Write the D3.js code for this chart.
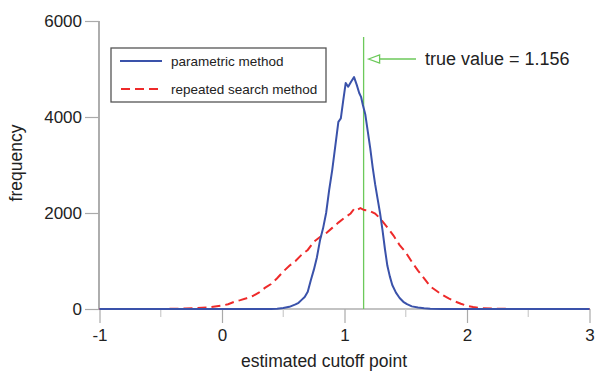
<!DOCTYPE html>
<html>
<head>
<meta charset="utf-8">
<script src="https://cdn.jsdelivr.net/npm/d3@7"></script>
<style>
  html, body { margin: 0; padding: 0; background: #fff; }
  svg { display: block; font-family: "Liberation Sans", Arial, Helvetica, sans-serif; }
</style>
</head>
<body>
<svg id="chart" width="595" height="376"></svg>
<script>
// Histogram of estimated cutoff points (x = estimate, y = frequency)
const parametricX = [-1, 0.4, 0.45, 0.5, 0.55, 0.6, 0.625, 0.65, 0.675, 0.7, 0.725, 0.75, 0.775, 0.8, 0.825, 0.85, 0.875, 0.9, 0.925, 0.95, 0.97, 0.99, 1.01, 1.03, 1.055, 1.078, 1.1, 1.12, 1.135, 1.15, 1.17, 1.19, 1.21, 1.23, 1.25, 1.27, 1.29, 1.31, 1.33, 1.35, 1.37, 1.39, 1.42, 1.45, 1.48, 1.51, 1.55, 1.6, 1.65, 1.7, 1.8, 3];
const parametricY = [0, 0, 5, 20, 45, 95, 130, 190, 250, 360, 600, 820, 1080, 1430, 1680, 2000, 2480, 2900, 3400, 3900, 3970, 4350, 4710, 4630, 4740, 4830, 4670, 4500, 4420, 4250, 4050, 3700, 3350, 2950, 2600, 2300, 2000, 1650, 1250, 900, 680, 500, 340, 230, 150, 100, 55, 30, 15, 6, 0, 0];

const searchX = [-1, -0.5, -0.3, -0.2, -0.1, 0, 0.05, 0.1, 0.15, 0.2, 0.25, 0.3, 0.35, 0.4, 0.45, 0.5, 0.55, 0.6, 0.65, 0.7, 0.75, 0.8, 0.85, 0.9, 0.95, 1.0, 1.05, 1.08, 1.1, 1.13, 1.16, 1.2, 1.25, 1.3, 1.35, 1.4, 1.45, 1.5, 1.55, 1.6, 1.65, 1.7, 1.75, 1.8, 1.85, 1.9, 1.95, 2.0, 2.05, 2.1, 2.2, 2.4, 3];
const searchY = [0, 0, 10, 20, 35, 70, 100, 150, 185, 225, 270, 340, 440, 520, 640, 780, 900, 1000, 1130, 1230, 1400, 1500, 1580, 1690, 1800, 1900, 1990, 2090, 2060, 2100, 2060, 2050, 1990, 1860, 1700, 1530, 1330, 1180, 980, 800, 640, 470, 380, 290, 220, 160, 110, 65, 40, 20, 8, 0, 0];

const xTicks = [-1, 0, 1, 2, 3];
const xMinorTicks = [-0.5, 0.5, 1.5, 2.5];
const yTicks = [0, 2000, 4000, 6000];
const trueValue = 1.156;
const seriesNames = ["parametric method", "repeated search method"];

const svg = d3.select("#chart");
const x = d3.scaleLinear().domain([-1, 3]).range([99.5, 589.5]);
const y = d3.scaleLinear().domain([0, 6000]).range([309, 21]);
const plain = d => String(d);

// y axis
const yAxis = svg.append("g").attr("transform", "translate(99,0)")
  .call(d3.axisLeft(y).tickValues(yTicks).tickFormat(plain).tickSize(14).tickPadding(3));
yAxis.select(".domain").attr("stroke", "#777").attr("stroke-width", 1.2).attr("d", `M0,${y(6000)}V${y(0)}`);
yAxis.selectAll(".tick line").attr("stroke", "#aaa").attr("stroke-width", 1.2);
yAxis.selectAll(".tick text").attr("font-size", 17).attr("fill", "#222")
  .attr("font-family", "'Liberation Sans', Arial, sans-serif");

// x axis
const xAxis = svg.append("g").attr("transform", `translate(0,${y(0)})`)
  .call(d3.axisBottom(x).tickValues(xTicks).tickFormat(plain).tickSize(14).tickPadding(6));
xAxis.select(".domain").attr("stroke", "#888").attr("stroke-width", 1.2).attr("d", `M${x(-1)},0H${x(3)}`);
xAxis.selectAll(".tick line").attr("stroke", "#aaa").attr("stroke-width", 1.2);
xAxis.selectAll(".tick text").attr("font-size", 17).attr("fill", "#222")
  .attr("font-family", "'Liberation Sans', Arial, sans-serif");

// minor x ticks at halves
svg.append("g").selectAll("line").data(xMinorTicks).join("line")
  .attr("x1", d => x(d)).attr("x2", d => x(d))
  .attr("y1", y(0)).attr("y2", y(0) + 8)
  .attr("stroke", "#ccc").attr("stroke-width", 1.2);

// true value marker
svg.append("line")
  .attr("x1", x(trueValue)).attr("x2", x(trueValue))
  .attr("y1", 37).attr("y2", y(0))
  .attr("stroke", "#6cc95a").attr("stroke-width", 1.3);

const line = d3.line().x(d => x(d[0])).y(d => y(d[1]));

// repeated search method (dashed red)
svg.append("path")
  .datum(d3.zip(searchX, searchY))
  .attr("d", line).attr("fill", "none")
  .attr("stroke", "#ee2a2a").attr("stroke-width", 2)
  .attr("stroke-dasharray", "9,5");

// parametric method (blue)
svg.append("path")
  .datum(d3.zip(parametricX, parametricY))
  .attr("d", line).attr("fill", "none")
  .attr("stroke", "#3a52aa").attr("stroke-width", 2)
  .attr("stroke-linejoin", "round");

// arrow pointing at the true value
const ax = x(trueValue) + 5;
svg.append("line").attr("x1", ax + 10).attr("x2", 416).attr("y1", 59).attr("y2", 59)
  .attr("stroke", "#6cc95a").attr("stroke-width", 1.3);
svg.append("path")
  .attr("d", `M${ax},59L${ax + 11},55L${ax + 11},63Z`)
  .attr("fill", "#fff").attr("stroke", "#6cc95a").attr("stroke-width", 1.3);
svg.append("text").attr("x", 425).attr("y", 65)
  .attr("font-size", 18).attr("fill", "#222")
  .text("true value = " + trueValue);

// legend
const lg = svg.append("g");
lg.append("rect").attr("x", 111).attr("y", 48).attr("width", 215).attr("height", 54)
  .attr("fill", "#fff").attr("stroke", "#555").attr("stroke-width", 1.3);
lg.append("line").attr("x1", 120).attr("x2", 162).attr("y1", 61).attr("y2", 61)
  .attr("stroke", "#3a52aa").attr("stroke-width", 2);
lg.append("line").attr("x1", 121).attr("x2", 162).attr("y1", 89).attr("y2", 89)
  .attr("stroke", "#ee2a2a").attr("stroke-width", 2).attr("stroke-dasharray", "9,5");
lg.selectAll("text").data(seriesNames).join("text")
  .attr("x", 171).attr("y", (d, i) => 65.5 + i * 28)
  .attr("font-size", 13.5).attr("fill", "#222").text(d => d);

// axis titles
svg.append("text").attr("x", 324).attr("y", 367).attr("text-anchor", "middle")
  .attr("font-size", 17.5).attr("fill", "#222").text("estimated cutoff point");
svg.append("text").attr("transform", "translate(22,163) rotate(-90)").attr("text-anchor", "middle")
  .attr("font-size", 17.5).attr("fill", "#222").text("frequency");
</script>
</body>
</html>
